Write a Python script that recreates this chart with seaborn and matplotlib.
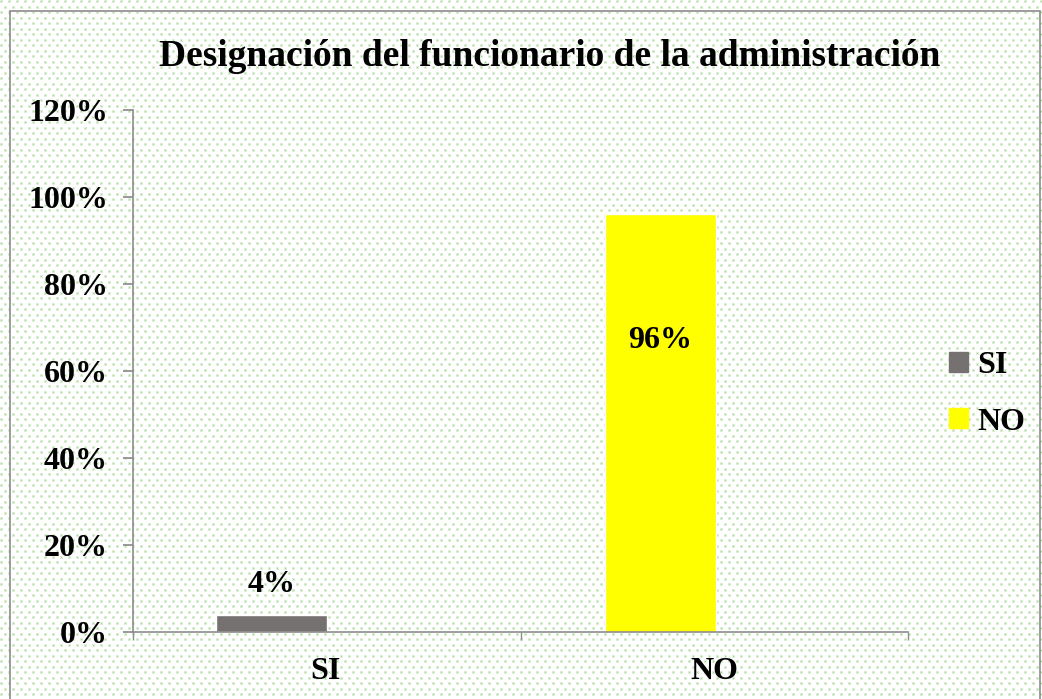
import numpy as np
import pandas as pd
import seaborn as sns
import matplotlib.pyplot as plt
from matplotlib.patches import Rectangle

# chart data
categories = ["SI", "NO"]
values = [0.04, 0.96]
bar_colors = ["#767171", "#FFFF00"]
y_ticks = [0, 0.2, 0.4, 0.6, 0.8, 1.0, 1.2]
title = "Designación del funcionario de la administración"

df = pd.DataFrame({"resp": categories, "pct": values})

sns.set_theme(style="white")
plt.rcParams["font.family"] = ["Liberation Serif", "DejaVu Serif"]
plt.rcParams["font.weight"] = "bold"
plt.rcParams["text.color"] = "black"
plt.rcParams["xtick.color"] = "black"
plt.rcParams["ytick.color"] = "black"

W, H = 1042, 699
fig = plt.figure(figsize=(W / 100, H / 100), dpi=100)

# dotted background
bg = np.ones((H, W, 3))
yy, xx = np.mgrid[0:H, 0:W]
core = ((xx % 8 == 1) & (yy % 11 == 1)) | (((xx + 4) % 8 == 1) & ((yy + 5) % 11 == 1))
halo = ((xx % 8 < 3) & (yy % 11 < 3)) | (((xx + 4) % 8 < 3) & ((yy + 5) % 11 < 3))
bg[halo] = [0.86, 0.94, 0.83]
bg[core] = [0.65, 0.84, 0.58]
fig.figimage(bg, 0, 0, zorder=-1)

fig.patches.append(Rectangle((10 / W, -0.01), 1030 / W, 1 - 11 / H + 0.01,
                             transform=fig.transFigure, fill=False,
                             edgecolor="#8c8c8c", linewidth=1.2))

ax = fig.add_axes([133 / W, (H - 632) / H, (908 - 133) / W, (632 - 110) / H])
ax.set_zorder(2)
ax.patch.set_alpha(0)

sns.barplot(data=df, x="resp", y="pct", hue="resp", palette=bar_colors,
            width=0.286, legend=False, saturation=1, ax=ax)

ax.set_xlim(-0.358, 1.639)
ax.set_ylim(0, 1.2)
ax.set_yticks(y_ticks)
ax.set_yticklabels([f"{int(round(t * 100))}%" for t in y_ticks],
                   fontsize=23, fontweight="bold")
ax.set_xticks([0.139, 1.139])
ax.set_xticklabels(categories, fontsize=23, fontweight="bold")
ax.tick_params(axis="x", length=0, pad=18)
ax.set_xticks([-0.358, 0.642, 1.639], minor=True)
ax.tick_params(axis="x", which="minor", length=6, color="#8c8c8c", direction="out", bottom=True)
ax.tick_params(axis="y", length=7, color="#8c8c8c", direction="out", left=True, pad=11)
ax.set_xlabel("")
ax.set_ylabel("")
for s in ["top", "right"]:
    ax.spines[s].set_visible(False)
for s in ["left", "bottom"]:
    ax.spines[s].set_color("#8c8c8c")
    ax.spines[s].set_linewidth(1.2)

# data labels
ax.text(0, values[0] + 0.07, f"{values[0]:.0%}", ha="center", va="center",
        fontsize=23, fontweight="bold")
ax.text(1, values[1] - 0.29, f"{values[1]:.0%}", ha="center", va="center",
        fontsize=23, fontweight="bold")

fig.text(550 / W, 1 - 57 / H, title, ha="center", va="center",
         fontsize=27, fontweight="bold")

# legend
handles = [Rectangle((0, 0), 1, 1, color=c) for c in bar_colors]
fig.legend(handles, categories, loc="center left", bbox_to_anchor=(920 / W, 1 - 394 / H),
           frameon=False, prop={"weight": "bold", "size": 23},
           handlelength=0.6, handleheight=0.6, handletextpad=0.3, labelspacing=0.85)

fig.savefig("out.png", dpi=100)
